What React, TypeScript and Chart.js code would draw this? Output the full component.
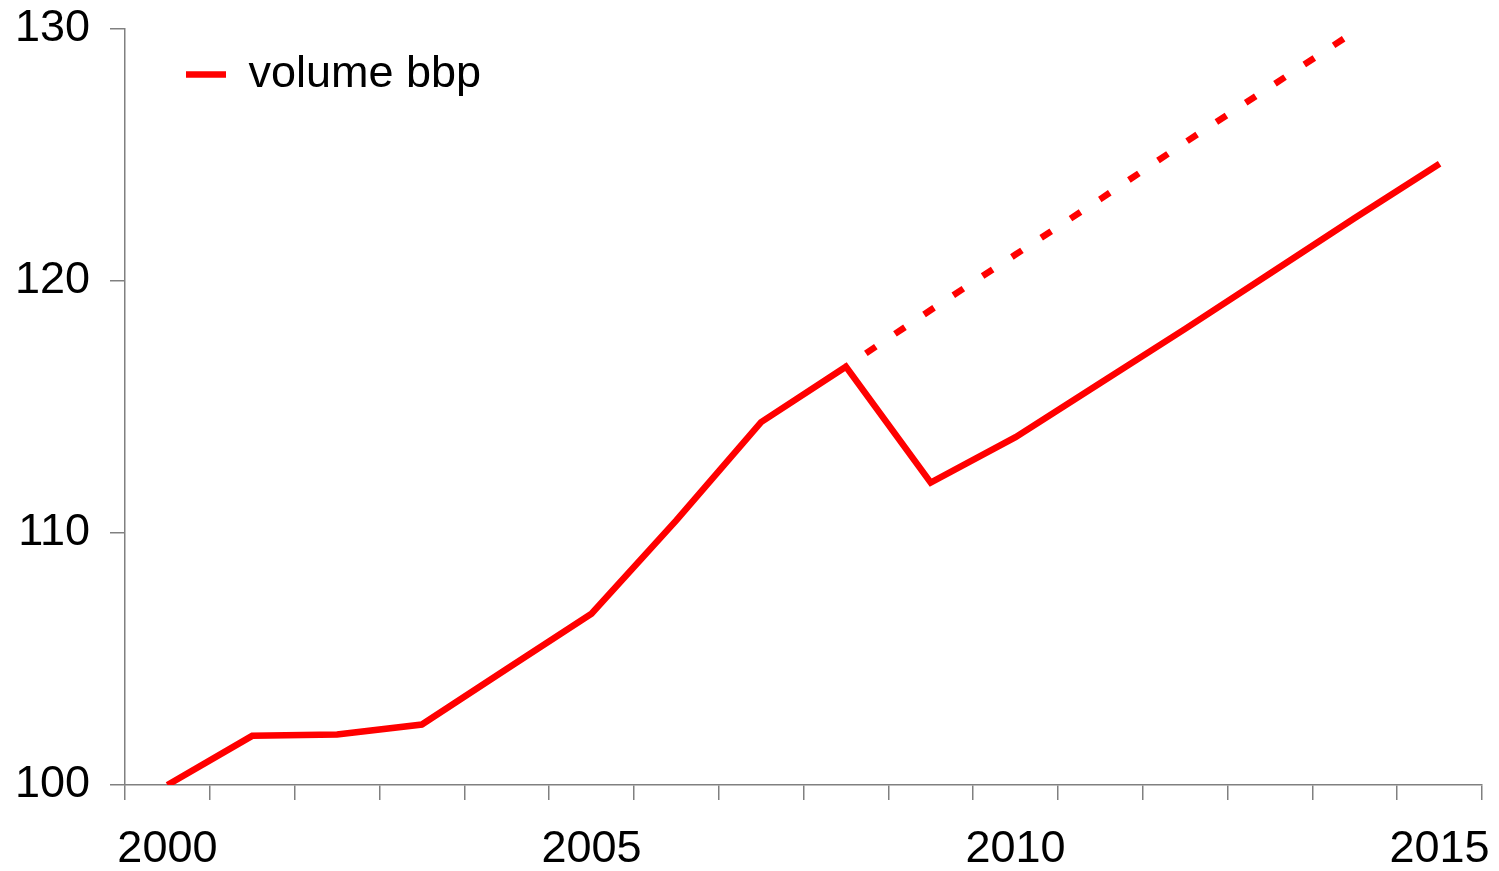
import React, { useEffect, useRef } from "react";
import { Chart, registerables } from "chart.js";

Chart.register(...registerables);

const years: string[] = [
  "2000", "2001", "2002", "2003", "2004", "2005", "2006", "2007",
  "2008", "2009", "2010", "2011", "2012", "2013", "2014", "2015",
];

const volumeBbp: (number | null)[] = [
  100, 101.95, 102.0, 102.4, 104.6, 106.8, 110.5, 114.4,
  116.6, 112.0, 113.8, 115.95, 118.1, 120.3, 122.5, 124.65,
];

const trendBbp: (number | null)[] = [
  null, null, null, null, null, null, null, null,
  116.6, 118.85, 121.05, 123.25, 125.5, 127.7, 129.9, null,
];

const yTicks: number[] = [100, 110, 120, 130];

const FONT = "'Liberation Sans', Arial, sans-serif";

export default function App() {
  const canvasRef = useRef<HTMLCanvasElement | null>(null);

  useEffect(() => {
    if (!canvasRef.current) return;
    const legendShift = {
      id: "legendShift",
      afterLayout(chart: any) {
        if (chart.legend) {
          chart.legend.left = 125 + 38;
          chart.legend.top = 29;
        }
      },
    };
    const chart = new Chart(canvasRef.current, {
      type: "line",
      data: {
        labels: years,
        datasets: [
          {
            label: "volume bbp",
            data: volumeBbp,
            borderColor: "#ff0000",
            backgroundColor: "#ff0000",
            borderWidth: 6.5,
            pointRadius: 0,
            tension: 0,
            fill: false,
          },
          {
            label: "",
            data: trendBbp,
            borderColor: "#ff0000",
            backgroundColor: "#ff0000",
            borderWidth: 6.5,
            borderDash: [12, 23],
            borderDashOffset: 11,
            borderCapStyle: "butt",
            pointRadius: 0,
            tension: 0,
            fill: false,
          },
        ],
      },
      options: {
        animation: false,
        responsive: false,
        devicePixelRatio: 1,
        layout: { padding: { left: 0, top: 29, right: 17, bottom: 0 } },
        plugins: {
          tooltip: { enabled: false },
          legend: {
            display: true,
            position: "chartArea" as any,
            align: "start",
            labels: {
              filter: (item: any) => item.text !== "",
              usePointStyle: true,
              pointStyle: "line",
              pointStyleWidth: 40,
              padding: 23,
              color: "#000000",
              font: { family: FONT, size: 45 },
            },
          },
        },
        scales: {
          x: {
            type: "category",
            offset: true,
            grid: {
              offset: true,
              drawOnChartArea: false,
              drawTicks: true,
              tickLength: 15,
              color: "#808080",
              lineWidth: 1.5,
            },
            border: { display: true, color: "#808080", width: 1.5 },
            ticks: {
              autoSkip: false,
              maxRotation: 0,
              minRotation: 0,
              padding: 23,
              color: "#000000",
              font: { family: FONT, size: 45 },
              callback: (_v: any, i: number) => (i % 5 === 0 ? years[i] : ""),
            },
            afterFit: (scale: any) => {
              scale.height = 86;
              scale.paddingLeft = 0;
              scale.paddingRight = 0;
            },
          },
          y: {
            min: 100,
            max: 130,
            afterBuildTicks: (scale: any) => {
              scale.ticks = yTicks.map((v) => ({ value: v }));
            },
            grid: {
              drawOnChartArea: false,
              drawTicks: true,
              tickLength: 15,
              color: "#808080",
              lineWidth: 1.5,
            },
            border: { display: true, color: "#808080", width: 1.5 },
            ticks: {
              padding: 20,
              color: "#000000",
              font: { family: FONT, size: 45 },
            },
            afterFit: (scale: any) => {
              scale.width = 125;
              scale.paddingTop = 0;
              scale.paddingBottom = 0;
            },
          },
        },
      },
      plugins: [legendShift],
    });
    return () => chart.destroy();
  }, []);

  return (
    <div style={{ position: "absolute", left: 0, top: 0, width: 1499, height: 871, background: "#ffffff" }}>
      <canvas ref={canvasRef} width={1499} height={871} style={{ display: "block" }} />
    </div>
  );
}
